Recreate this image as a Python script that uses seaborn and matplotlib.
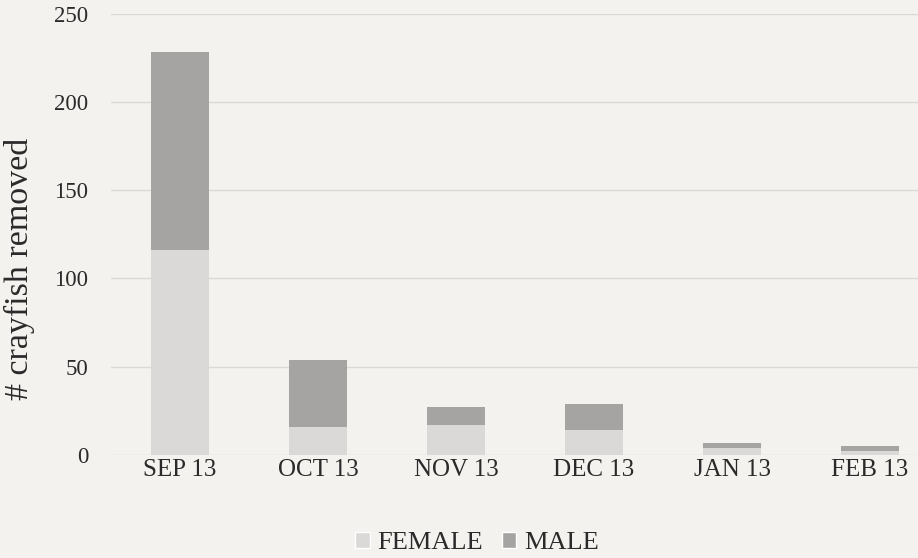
import matplotlib
matplotlib.use("Agg")
import matplotlib.pyplot as plt
import seaborn as sns
import pandas as pd
from matplotlib.patches import Patch

months = ["SEP 13", "OCT 13", "NOV 13", "DEC 13", "JAN 13", "FEB 13"]
female = [116, 16, 17, 14, 4, 2]
male = [112, 38, 10, 15, 3, 3]
yticks = [0, 50, 100, 150, 200, 250]

total = [f + m for f, m in zip(female, male)]
df = pd.DataFrame({"month": months, "female": female, "male": male, "total": total})

bg = "#f4f2ef"
c_female = "#dad9d8"
c_male = "#a5a4a2"
txt = "#2a2a2a"

sns.set_theme(style="white")
plt.rcParams["font.family"] = ["Liberation Serif", "DejaVu Serif"]

W, H = 918, 558
fig = plt.figure(figsize=(W / 100, H / 100), dpi=100, facecolor=bg)
ax = fig.add_axes([111 / W, (H - 455) / H, (W - 111) / W, 441.5 / H])
ax.set_facecolor(bg)

sns.barplot(data=df, x="month", y="total", color=c_male, width=0.42,
            saturation=1, ax=ax, linewidth=0)
sns.barplot(data=df, x="month", y="female", color=c_female, width=0.42,
            saturation=1, ax=ax, linewidth=0)

ax.set_xlim(-0.5, -0.5 + (W - 111) / 138)
ax.set_ylim(0, 250)
ax.set_yticks(yticks)
ax.yaxis.grid(True, color="#dbd8d5", linewidth=1)
ax.set_axisbelow(True)
for s in ax.spines.values():
    s.set_visible(False)
ax.tick_params(axis="both", length=0, labelcolor=txt)
ax.tick_params(axis="y", pad=16.5, labelsize=16.5)
ax.tick_params(axis="x", pad=3, labelsize=18)
ax.set_xlabel("")
ax.set_ylabel("# crayfish removed", fontsize=24.5, color=txt)
ax.yaxis.set_label_coords(-0.094, 0.421)

handles = [Patch(facecolor=c_female, label="FEMALE"), Patch(facecolor=c_male, label="MALE")]
fig.legend(handles=handles, loc="center", bbox_to_anchor=(477 / W, 1 - 543 / H), ncol=2,
           frameon=False, fontsize=19, handlelength=0.55, handleheight=0.55,
           handletextpad=0.3, columnspacing=0.7, labelcolor=txt)

fig.savefig("out.png", dpi=100, facecolor=bg)
